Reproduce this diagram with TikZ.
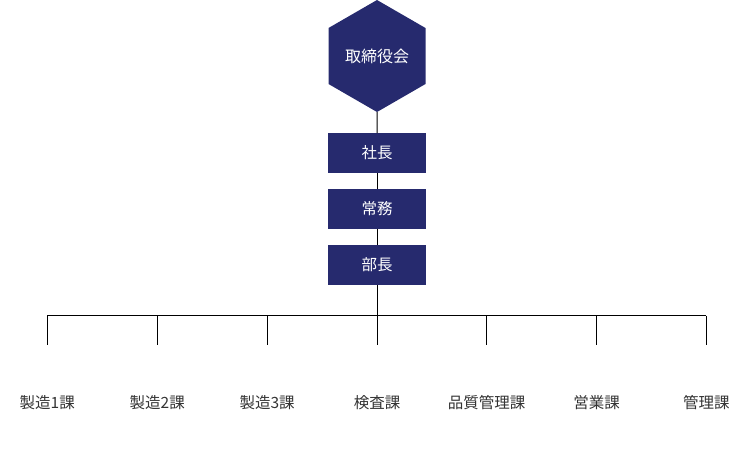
\documentclass[tikz,border=0pt]{standalone}
\usepackage{fontspec}
\setmainfont{Noto Sans CJK JP}
\usetikzlibrary{shapes.geometric}
\definecolor{navy}{HTML}{262A6E}
\definecolor{txt}{HTML}{333333}
\tikzset{
  hexbox/.style={regular polygon, regular polygon sides=6, shape border rotate=30,
    minimum size=112pt, inner sep=0pt, fill=navy, text=white, font=\fontsize{16pt}{18pt}\selectfont},
  rolebox/.style={rectangle, minimum width=98pt, minimum height=39.5pt, inner sep=0pt,
    fill=navy, text=white, font=\fontsize{15.5pt}{18pt}\selectfont},
  dept/.style={text=txt, inner sep=0pt, font=\fontsize{15.5pt}{18pt}\selectfont},
  link/.style={draw=black, line width=1pt}
}
\begin{document}
\begin{tikzpicture}[x=1pt,y=-1pt]
\useasboundingbox (0,0) rectangle (755,459);
\coordinate (hub) at (377,315.5);
\foreach \i/\x in {1/47.3,2/157.2,3/267.1,4/377,5/486.7,6/596.5,7/706.3}{
  \coordinate (top\i) at (\x,315.5);
  \coordinate (end\i) at (\x,345);
}
\node[hexbox] (board) at (377,56) {取締役会};
\node[rolebox] (shacho) at (377,153) {社長};
\node[rolebox] (jomu) at (377,209) {常務};
\node[rolebox] (bucho) at (377,265) {部長};
\draw[link] (board) -- (shacho);
\draw[link] (shacho) -- (jomu);
\draw[link] (jomu) -- (bucho);
\draw[link] (bucho) -- (hub);
\draw[link] (top1) -- (top7);
\foreach \i in {1,...,7}{ \draw[link] (top\i) -- (end\i); }
\node[dept] (d1) at (47.3,403) {製造1課};
\node[dept] (d2) at (157.2,403) {製造2課};
\node[dept] (d3) at (267.1,403) {製造3課};
\node[dept] (d4) at (377,403) {検査課};
\node[dept] (d5) at (486.7,403) {品質管理課};
\node[dept] (d6) at (596.5,403) {営業課};
\node[dept] (d7) at (706.3,403) {管理課};
\end{tikzpicture}
\end{document}
